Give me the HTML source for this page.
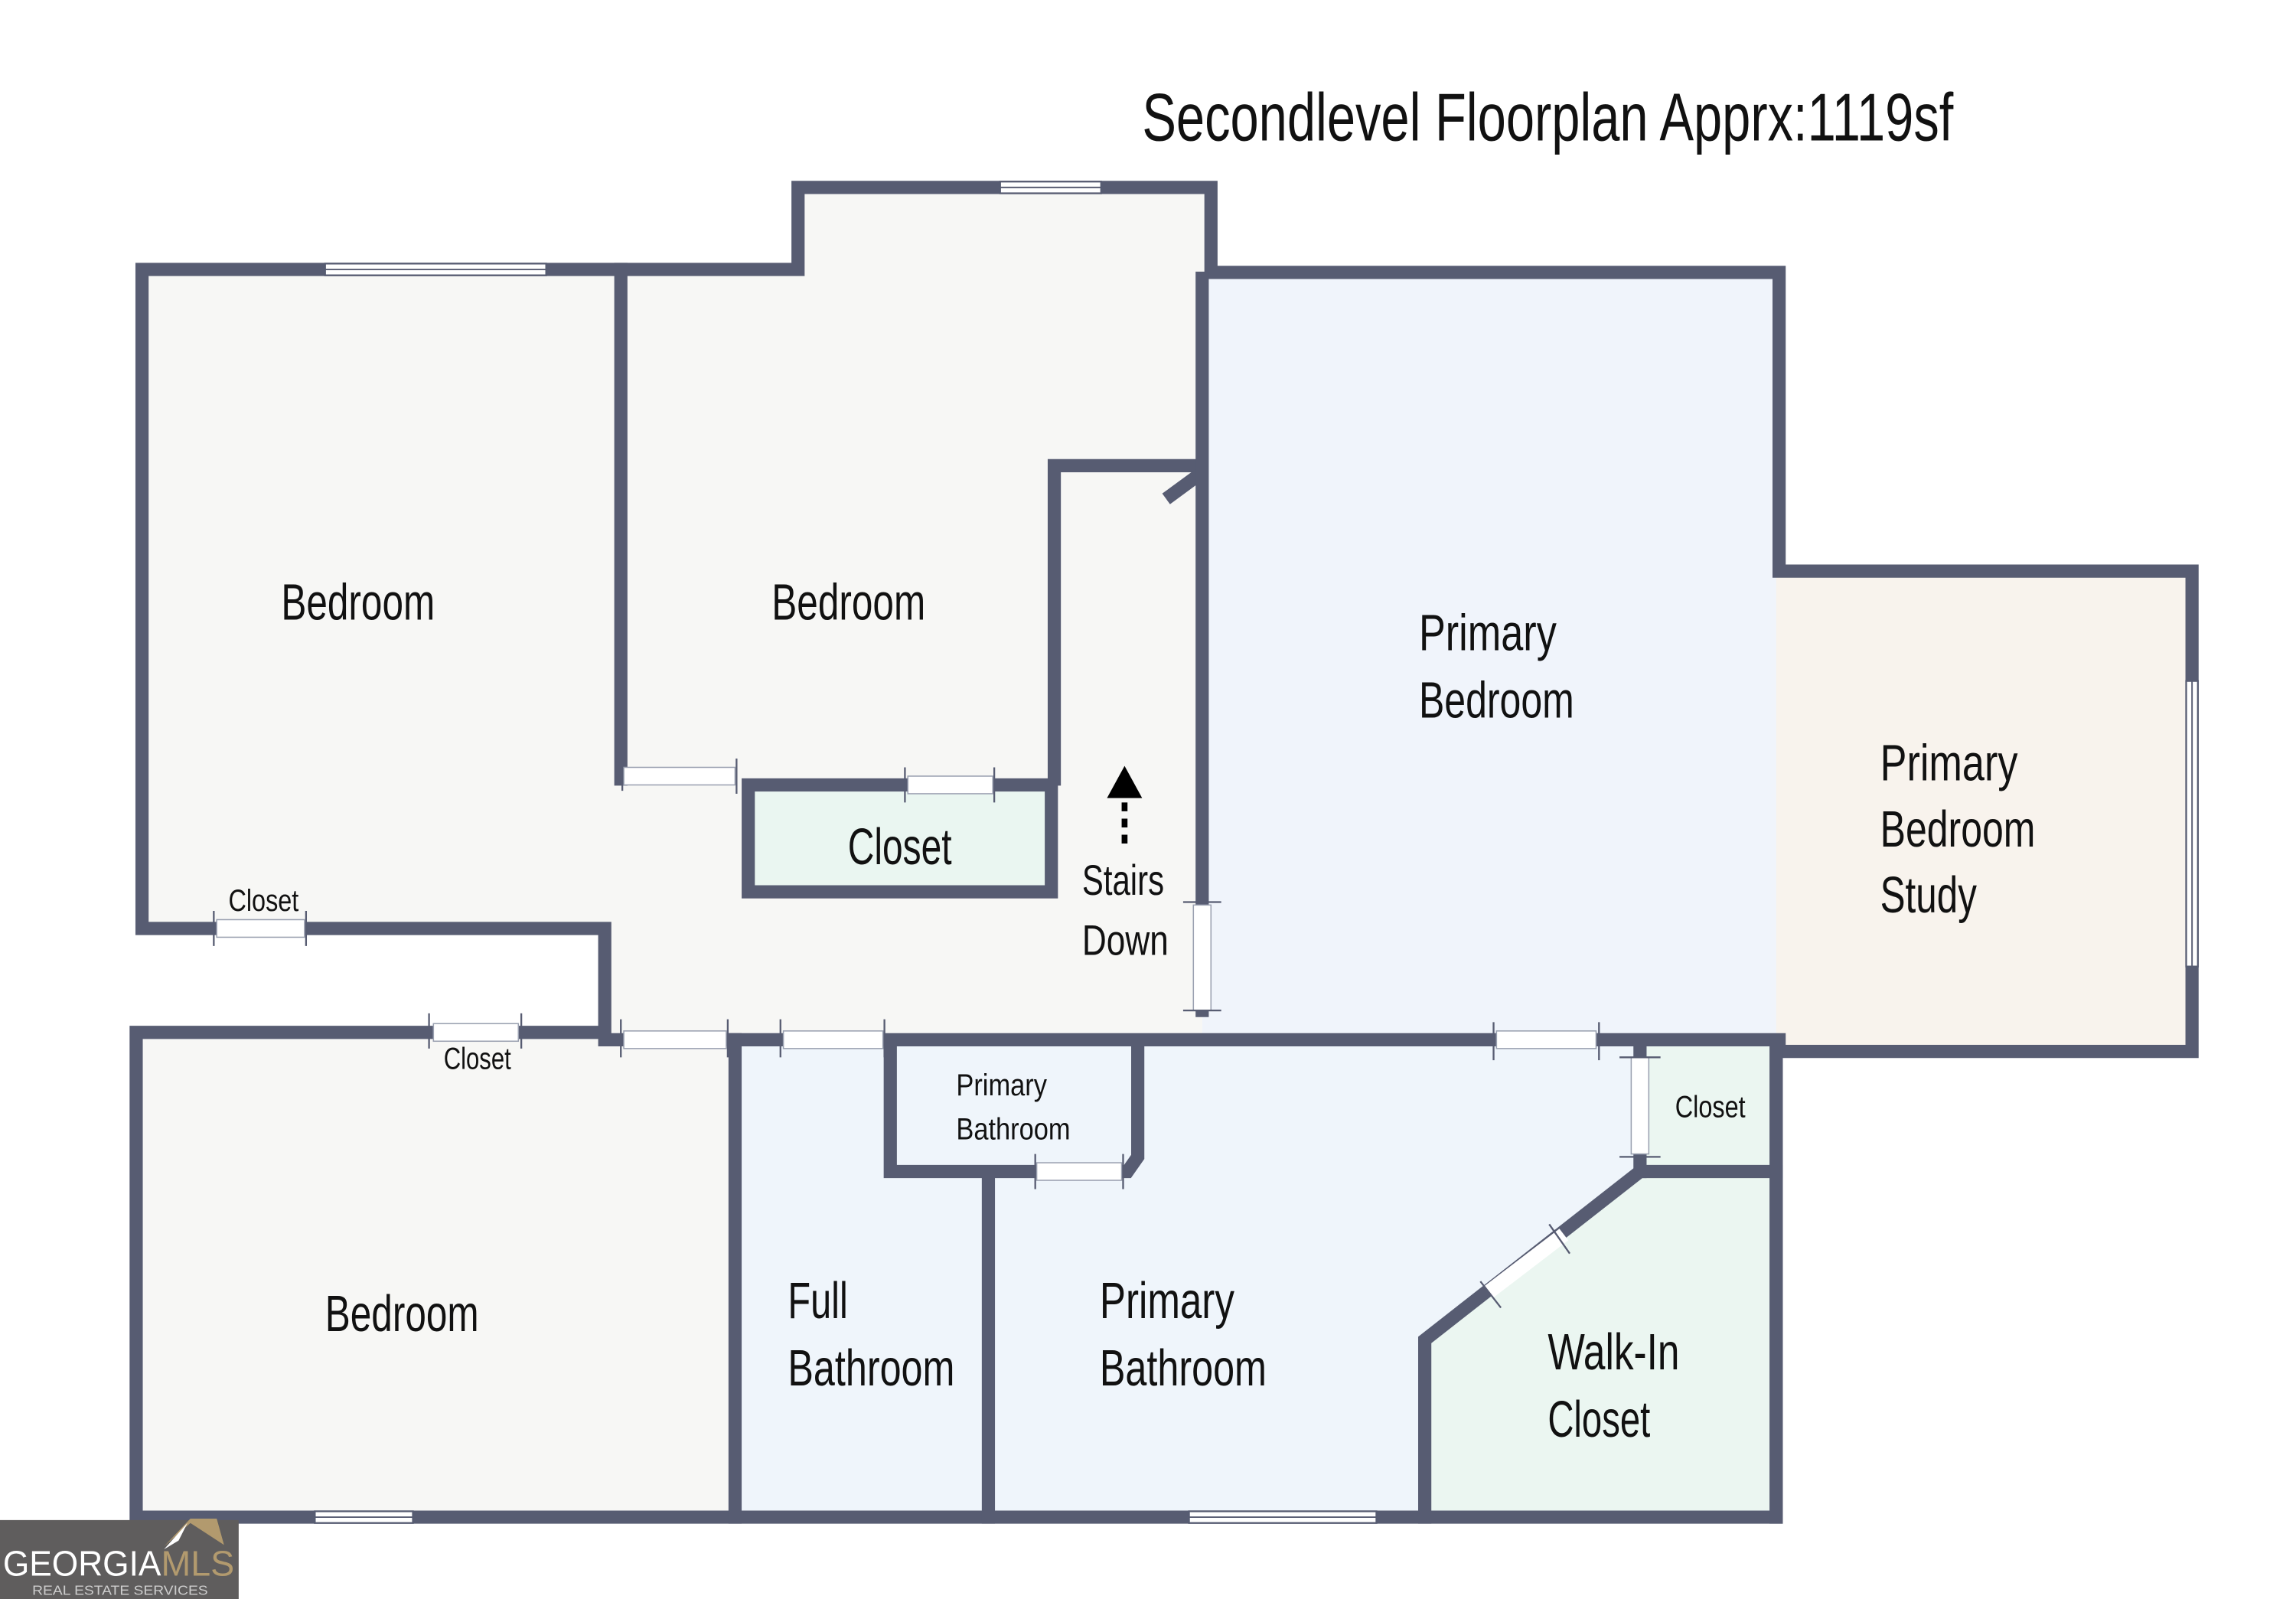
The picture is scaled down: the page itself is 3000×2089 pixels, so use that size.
<!DOCTYPE html>
<html><head><meta charset="utf-8"><style>
html,body{margin:0;padding:0;background:#fff;}
svg{display:block;}
text{font-family:"Liberation Sans",sans-serif;fill:#111;}
</style></head><body>
<svg width="3000" height="2089" viewBox="0 0 1568 1091.9" preserveAspectRatio="none" xmlns="http://www.w3.org/2000/svg">
<rect width="1570" height="1095" fill="#fff"/>
<g stroke="none">
<path d="M97,184 H545 V128 H827 V710 H413 V634 H97 Z" fill="#f7f7f5"/>
<rect x="93" y="705" width="409" height="331" fill="#f7f7f5"/>
<rect x="821" y="186" width="394" height="524" fill="#f0f4fb"/>
<rect x="1213" y="390" width="284" height="328" fill="#f8f3ed"/>
<rect x="502" y="710" width="711" height="326" fill="#eff5fb"/>
<rect x="511" y="536" width="207" height="73" fill="#eaf6f1"/>
<rect x="1120" y="712" width="93" height="88" fill="#ebf6f1"/>
<path d="M973,915 L1120,800 H1213 V1036 H973 Z" fill="#ebf6f1"/>
</g>
<g fill="none" stroke="#575c72" stroke-width="9" stroke-linecap="square">
<path d="M413,634 H97 V184 H545 V128 H827 V186 H1215 V390 H1497 V718 H1213 V1036 H93 V705 H413 V634"/>
<path d="M424,184 V532"/>
<path d="M720,532 V318 H815"/>
<path d="M800,338 L815,327"/>
<path d="M821,190 V690"/>
<path d="M413,710 H1215"/>
<rect x="511" y="536" width="207" height="73"/>
<path d="M502,710 V1036"/>
<path d="M675,805 V1036"/>
<path d="M608,712 V800 H770 L777,790 V712"/>
<path d="M973,1036 V915 L1120,800 H1213"/>
<path d="M1120,712 V800"/>
<path d="M1213,712 V1036"/>
</g>
<g fill="#fff" stroke="#9aa0b0" stroke-width="0.8">
<rect x="148" y="628" width="60" height="12"/>
<rect x="296" y="699" width="58" height="12"/>
<rect x="426" y="524" width="76" height="12"/>
<rect x="620" y="530" width="58" height="12"/>
<rect x="426" y="704" width="70" height="12"/>
<rect x="535" y="704" width="68" height="12"/>
<rect x="1022" y="704" width="68" height="12"/>
<rect x="815" y="618" width="12" height="72"/>
<rect x="708" y="794" width="58" height="12"/>
<rect x="1114" y="722" width="12" height="66"/>
</g>
<path d="M1017,882 L1068,843" stroke="#fff" stroke-width="10"/>
<g stroke="#575c72" stroke-width="1.2">
<path d="M146,622 V646 M209,622 V646 M293,692 V716 M356,692 V716 M425,520 V540 M503,518 V542 M618,524 V548 M679,524 V548 M424,696 V722 M497,696 V722 M533,696 V722 M604,696 V722 M1020,698 V724 M1092,698 V724 M808,616 H834 M808,690 H834 M707,788 V812 M767,788 V812 M1106,722 H1134 M1106,790 H1134 M1011,875 L1025,893 M1058,836 L1072,856"/>
</g>
<g fill="#fff" stroke="#575c72" stroke-width="1.2">
<rect x="222" y="180" width="151" height="8"/>
<rect x="683" y="124" width="69" height="8"/>
<rect x="215" y="1032" width="67" height="8"/>
<rect x="812" y="1032" width="128" height="8"/>
<rect x="1493" y="465" width="8" height="195"/>
</g>
<g stroke="#575c72" stroke-width="1"><path d="M222,184 H373 M683,128 H752 M215,1036 H282 M812,1036 H940 M1497,465 V660"/></g>
<path d="M768,576 V546" stroke="#000" stroke-width="4" stroke-dasharray="6,5"/>
<path d="M756,545 L768,523 L780,545 Z" fill="#000"/>
<text x="780" y="96" font-size="46" textLength="554" lengthAdjust="spacingAndGlyphs">Secondlevel Floorplan Apprx:1119sf</text>
<g font-size="35">
<text x="192" y="423" textLength="105" lengthAdjust="spacingAndGlyphs">Bedroom</text>
<text x="527" y="423" textLength="105" lengthAdjust="spacingAndGlyphs">Bedroom</text>
<text x="969" y="444" textLength="94" lengthAdjust="spacingAndGlyphs">Primary</text>
<text x="969" y="490" textLength="106" lengthAdjust="spacingAndGlyphs">Bedroom</text>
<text x="1284" y="533" textLength="94" lengthAdjust="spacingAndGlyphs">Primary</text>
<text x="1284" y="578" textLength="106" lengthAdjust="spacingAndGlyphs">Bedroom</text>
<text x="1284" y="623" textLength="66" lengthAdjust="spacingAndGlyphs">Study</text>
<text x="579" y="590" textLength="71" lengthAdjust="spacingAndGlyphs">Closet</text>
<text x="222" y="909" textLength="105" lengthAdjust="spacingAndGlyphs">Bedroom</text>
<text x="538" y="900" textLength="41" lengthAdjust="spacingAndGlyphs">Full</text>
<text x="538" y="946" textLength="114" lengthAdjust="spacingAndGlyphs">Bathroom</text>
<text x="751" y="900" textLength="92" lengthAdjust="spacingAndGlyphs">Primary</text>
<text x="751" y="946" textLength="114" lengthAdjust="spacingAndGlyphs">Bathroom</text>
<text x="1057" y="935" textLength="90" lengthAdjust="spacingAndGlyphs">Walk-In</text>
<text x="1057" y="981" textLength="70" lengthAdjust="spacingAndGlyphs">Closet</text>
</g>
<g font-size="29">
<text x="739" y="611" textLength="56" lengthAdjust="spacingAndGlyphs">Stairs</text>
<text x="739" y="652" textLength="59" lengthAdjust="spacingAndGlyphs">Down</text>
</g>
<g font-size="21">
<text x="156" y="622" textLength="48" lengthAdjust="spacingAndGlyphs">Closet</text>
<text x="303" y="730" textLength="46" lengthAdjust="spacingAndGlyphs">Closet</text>
<text x="653" y="748" textLength="62" lengthAdjust="spacingAndGlyphs">Primary</text>
<text x="653" y="778" textLength="78" lengthAdjust="spacingAndGlyphs">Bathroom</text>
<text x="1144" y="763" textLength="48" lengthAdjust="spacingAndGlyphs">Closet</text>
</g>
<rect x="0" y="1038" width="163" height="56" fill="#5f5d5d"/>
<path d="M112,1056 L130,1037 L148,1037 L153,1055 L130,1040 Z" fill="#b29a6e"/>
<path d="M112,1058 L128,1040 L122,1052 Z" fill="#fff"/>
<text x="2" y="1076" font-size="24" style="fill:#fff" textLength="108" lengthAdjust="spacingAndGlyphs">GEORGIA</text>
<text x="110" y="1076" font-size="24" style="fill:#b29a6e" textLength="50" lengthAdjust="spacingAndGlyphs">MLS</text>
<text x="22" y="1089" font-size="9" style="fill:#ccc" textLength="120" lengthAdjust="spacingAndGlyphs">REAL ESTATE SERVICES</text>
</svg>
</body></html>
